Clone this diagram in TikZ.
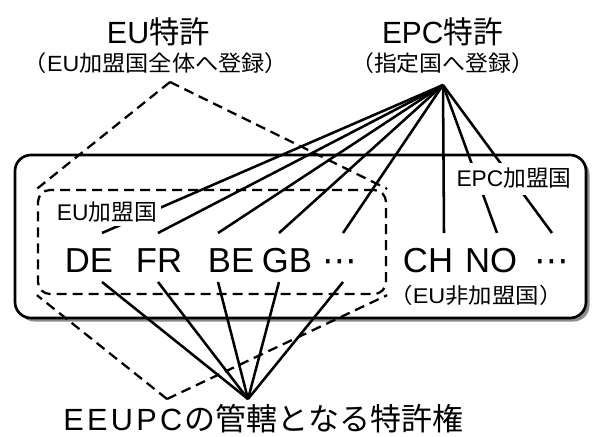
\documentclass[tikz,border=0pt]{standalone}
\usepackage{fontspec}
\usepackage{graphicx}
\setmainfont{Liberation Sans}
\newfontfamily\J{Noto Sans CJK JP}
\newfontfamily\dv{DejaVu Sans}
\newcommand{\fitw}[2]{\resizebox{#1}{\height}{#2}}
\begin{document}
\begin{tikzpicture}[x=0.75pt,y=-0.75pt,
  conn/.style={line width=1.9pt},
  dline/.style={line width=1.7pt, dash pattern=on 7.5pt off 4.5pt},
  lbl/.style={inner sep=0pt, anchor=base},
  mask/.style={fill=white, anchor=base, inner xsep=3pt},
  code/.style={inner sep=0pt, anchor=base, font=\fontsize{26}{26}\selectfont},
  boxshape/.style={inner sep=0pt, rounded corners=12pt, minimum width=428.25pt, minimum height=122.25pt},
]
\path[fill=white] (0,0) rectangle (598,436);
\useasboundingbox (0,0) rectangle (598,436);

% outer box with shadow
\node[boxshape, fill=black!45] (shadow) at (304,240) {};
\node[boxshape, draw, line width=2pt, fill=white] (outer) at (300.5,236.5) {};

% EU member box
\node[draw, dline, rounded corners=9pt, minimum width=261pt, minimum height=78pt, inner sep=0pt] (eubox) at (212,242) {};

% apex points
\coordinate (eu) at (170,82);
\coordinate (epc) at (443,85);
\coordinate (eub) at (167,399);
\coordinate (bot) at (248,399);

% dashed EU patent outline
\draw[dline] (eu) -- (eubox.north west);
\draw[dline] (eu) -- (eubox.north east);
\draw[dline] (eub) -- (eubox.south west);
\draw[dline] (eub) -- (eubox.south east);

% line end points
\foreach \n/\x in {DE/102, FR/158, BE/218, GB/279, EUd/343} {
  \coordinate (\n-t) at (\x,233);
  \coordinate (\n-b) at (\x,282);
}
\foreach \n/\x in {CH/444, NO/497, EPCd/552} {
  \coordinate (\n-t) at (\x,233);
}

% EPC lines
\foreach \n in {DE, FR, BE, GB, EUd, CH, NO, EPCd} {
  \draw[conn] (epc) -- (\n-t);
}
% EEUPC lines
\foreach \n in {DE, FR, BE, GB, EUd} {
  \draw[conn] (bot) -- (\n-b);
}

% group labels (masking the lines)
\node[mask, inner ysep=2pt, text height=13pt, text depth=2.5pt] (eulbl) at (107,220)
  {\fontsize{17}{17}\selectfont\fitw{75pt}{EU{\J 加盟国}}};
\node[mask, inner ysep=4pt, text height=13pt, text depth=3pt] (epclbl) at (514,186)
  {\fontsize{17}{17}\selectfont\fitw{86.25pt}{EPC{\J 加盟国}}};

% titles
\node[lbl] (t1) at (158.5,43) {\fontsize{23}{23}\selectfont\fitw{77.25pt}{EU{\J 特許}}};
\node[lbl] (s1) at (156,71) {\fontsize{16.5}{16.5}\selectfont\fitw{198pt}{{\J （}EU{\J 加盟国全体へ登録）}}};
\node[lbl] (t2) at (442.5,43) {\fontsize{23}{23}\selectfont\fitw{90.75pt}{EPC{\J 特許}}};
\node[lbl] (s2) at (442.5,71) {\fontsize{16.5}{16.5}\selectfont\fitw{137pt}{\J （指定国へ登録）}};

% country codes
\node[code] (DE) at (89,272) {DE};
\node[code] (FR) at (159,272) {FR};
\node[code] (BE) at (231,272) {BE};
\node[code] (GB) at (287,272) {GB};
\node[code] (EUdots) at (340,272) {\dv ⋯};
\node[code] (CH) at (428,272) {CH};
\node[code] (NO) at (491,272) {NO};
\node[code] (EPCdots) at (552,272) {\dv ⋯};

\node[lbl] (non) at (476,303) {\fontsize{16}{16}\selectfont\fitw{130pt}{{\J （}EU{\J 非加盟国）}}};

% bottom label
\node[inner sep=0pt, anchor=base west] (bt) at (63,430)
  {\fontsize{23}{23}\selectfont E\kern2.5pt E\kern2.5pt U\kern2.5pt P\kern2.5pt C\kern2pt{\J\fontsize{23.25}{23.25}\selectfont の管轄となる特許権}};
\end{tikzpicture}
\end{document}
